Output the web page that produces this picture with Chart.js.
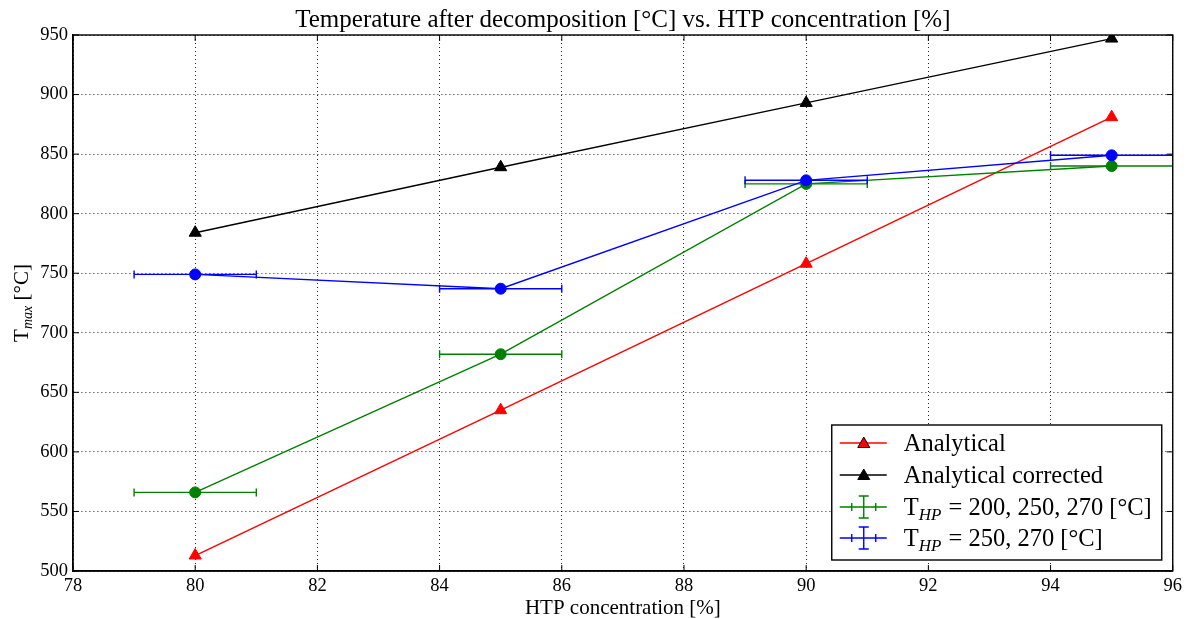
<!DOCTYPE html>
<html>
<head>
<meta charset="utf-8">
<script src="https://cdn.jsdelivr.net/npm/chart.js@4.4.1/dist/chart.umd.min.js"></script>
<style>
html, body { margin: 0; padding: 0; background: #fff; }
#wrap { width: 1186px; height: 619px; }
</style>
</head>
<body>
<div id="wrap"><canvas id="chart"></canvas></div>
<script>
const concentration = [80, 85, 90, 95];
const analytical = [513, 635, 758, 881];
const analyticalCorrected = [784, 839, 893, 947];
const measured200 = [566, 682, 825, 840];
const measured250 = [749, 737, 828, 849];
const concError = [1, 1, 1, 1];
const xTicks = [78, 80, 82, 84, 86, 88, 90, 92, 94, 96];
const yTicks = [500, 550, 600, 650, 700, 750, 800, 850, 900, 950];

const SERIF = '"Liberation Serif", "DejaVu Serif", serif';

function points(ys) {
    return concentration.map((x, i) => ({ x: x, y: ys[i] }));
}

// horizontal error bars, drawn under the markers of their series
const errorBars = {
    id: 'errorBars',
    beforeDatasetDraw(chart, args) {
        const ds = chart.data.datasets[args.index];
        if (!ds.xErr) return;
        const { ctx, chartArea, scales } = chart;
        ctx.save();
        ctx.beginPath();
        ctx.rect(chartArea.left, chartArea.top, chartArea.width, chartArea.height);
        ctx.clip();
        ctx.strokeStyle = ds.borderColor;
        ctx.lineWidth = 1.4;
        ds.data.forEach((p, i) => {
            const x1 = scales.x.getPixelForValue(p.x - ds.xErr[i]);
            const x2 = scales.x.getPixelForValue(p.x + ds.xErr[i]);
            const y = scales.y.getPixelForValue(p.y);
            ctx.beginPath();
            ctx.moveTo(x1, y); ctx.lineTo(x2, y);
            ctx.moveTo(x1, y - 4); ctx.lineTo(x1, y + 4);
            ctx.moveTo(x2, y - 4); ctx.lineTo(x2, y + 4);
            ctx.stroke();
        });
        ctx.restore();
    }
};

function drawSubText(ctx, x, y, parts) {
    // parts: [text, sub, rest]
    ctx.font = '24.5px ' + SERIF;
    ctx.fillText(parts[0], x, y);
    x += ctx.measureText(parts[0]).width;
    ctx.font = 'italic 17px ' + SERIF;
    ctx.fillText(parts[1], x, y + 5);
    x += ctx.measureText(parts[1]).width + 1;
    ctx.font = '24.5px ' + SERIF;
    ctx.fillText(parts[2], x, y);
}

const decorations = {
    id: 'decorations',
    afterDraw(chart) {
        const { ctx, chartArea: a, scales } = chart;
        ctx.save();
        ctx.fillStyle = '#000';
        ctx.strokeStyle = '#000';

        // frame
        ctx.lineWidth = 1.4;
        ctx.strokeRect(a.left, a.top, a.width, a.height);

        // inward ticks on all four sides
        ctx.lineWidth = 1;
        ctx.beginPath();
        xTicks.forEach(v => {
            const x = scales.x.getPixelForValue(v);
            ctx.moveTo(x, a.bottom); ctx.lineTo(x, a.bottom - 6);
            ctx.moveTo(x, a.top); ctx.lineTo(x, a.top + 6);
        });
        yTicks.forEach(v => {
            const y = scales.y.getPixelForValue(v);
            ctx.moveTo(a.left, y); ctx.lineTo(a.left + 6, y);
            ctx.moveTo(a.right, y); ctx.lineTo(a.right - 6, y);
        });
        ctx.stroke();

        // title
        ctx.font = '25px ' + SERIF;
        ctx.textAlign = 'center';
        ctx.textBaseline = 'alphabetic';
        ctx.fillText('Temperature after decomposition [\u00b0C] vs. HTP concentration [%]', (a.left + a.right) / 2, 27);

        // x axis title
        ctx.font = '21px ' + SERIF;
        ctx.fillText('HTP concentration [%]', (a.left + a.right) / 2, 614);

        // y axis title
        ctx.save();
        ctx.translate(28, (a.top + a.bottom) / 2);
        ctx.rotate(-Math.PI / 2);
        ctx.textAlign = 'left';
        ctx.font = '21px ' + SERIF;
        const t1 = 'T', t2 = 'max', t3 = ' [\u00b0C]';
        const w1 = ctx.measureText(t1).width;
        const w3 = ctx.measureText(t3).width;
        ctx.font = 'italic 14px ' + SERIF;
        const w2 = ctx.measureText(t2).width;
        let x = -(w1 + w2 + w3) / 2;
        ctx.font = '21px ' + SERIF;
        ctx.fillText(t1, x, 0);
        x += w1;
        ctx.font = 'italic 14px ' + SERIF;
        ctx.fillText(t2, x, 4);
        x += w2;
        ctx.font = '21px ' + SERIF;
        ctx.fillText(t3, x, 0);
        ctx.restore();

        // legend
        const bw = 330, bh = 135;
        const bx = a.right - 11 - bw, by = a.bottom - 11 - bh;
        ctx.fillStyle = '#fff';
        ctx.fillRect(bx, by, bw, bh);
        ctx.lineWidth = 1.4;
        ctx.strokeStyle = '#000';
        ctx.strokeRect(bx, by, bw, bh);
        ctx.textAlign = 'left';
        ctx.textBaseline = 'alphabetic';
        const rowY = [18, 50, 82, 113];
        chart.data.datasets.forEach((ds, i) => {
            const cy = by + rowY[i];
            const lx1 = bx + 8, lx2 = bx + 55, mx = bx + 32;
            ctx.strokeStyle = ds.borderColor;
            ctx.lineWidth = 1.4;
            ctx.beginPath();
            ctx.moveTo(lx1, cy); ctx.lineTo(lx2, cy);
            if (ds.xErr) {
                ctx.moveTo(mx - 12, cy - 4); ctx.lineTo(mx - 12, cy + 4);
                ctx.moveTo(mx + 12, cy - 4); ctx.lineTo(mx + 12, cy + 4);
                ctx.moveTo(mx, cy - 11); ctx.lineTo(mx, cy + 11);
                ctx.moveTo(mx - 5, cy - 11); ctx.lineTo(mx + 5, cy - 11);
                ctx.moveTo(mx - 5, cy + 11); ctx.lineTo(mx + 5, cy + 11);
            }
            ctx.stroke();
            if (!ds.xErr) {
                ctx.fillStyle = ds.pointBackgroundColor;
                ctx.strokeStyle = '#000';
                ctx.lineWidth = 1;
                ctx.beginPath();
                ctx.moveTo(mx, cy - 6);
                ctx.lineTo(mx + 6, cy + 4.5);
                ctx.lineTo(mx - 6, cy + 4.5);
                ctx.closePath();
                ctx.fill();
                ctx.stroke();
            }
            ctx.fillStyle = '#000';
            const ty = cy + 8;
            if (ds.legendParts) {
                drawSubText(ctx, bx + 72, ty, ds.legendParts);
            } else {
                ctx.font = '24.5px ' + SERIF;
                ctx.fillText(ds.label, bx + 72, ty);
            }
        });
        ctx.restore();
    }
};

const ctx = document.getElementById('chart').getContext('2d');
new Chart(ctx, {
    type: 'line',
    data: {
        datasets: [
            {
                label: 'Analytical',
                data: points(analytical),
                borderColor: '#ff0000',
                pointBackgroundColor: '#ff0000',
                pointStyle: 'triangle',
                order: 3
            },
            {
                label: 'Analytical corrected',
                data: points(analyticalCorrected),
                borderColor: '#000000',
                pointBackgroundColor: '#000000',
                pointStyle: 'triangle',
                order: 2
            },
            {
                label: 'T_HP = 200, 250, 270 [\u00b0C]',
                legendParts: ['T', 'HP', ' = 200, 250, 270 [\u00b0C]'],
                data: points(measured200),
                xErr: concError,
                borderColor: '#008000',
                pointBackgroundColor: '#008000',
                pointStyle: 'circle',
                pointRadius: 5.5,
                order: 1
            },
            {
                label: 'T_HP = 250, 270 [\u00b0C]',
                legendParts: ['T', 'HP', ' = 250, 270 [\u00b0C]'],
                data: points(measured250),
                xErr: concError,
                borderColor: '#0000ff',
                pointBackgroundColor: '#0000ff',
                pointStyle: 'circle',
                pointRadius: 5.5,
                order: 0
            }
        ]
    },
    options: {
        responsive: true,
        maintainAspectRatio: false,
        animation: false,
        layout: { padding: { left: 0, top: 35, right: 10, bottom: 0 } },
        elements: {
            line: { borderWidth: 1.4, tension: 0 },
            point: { radius: 7, borderColor: '#000', borderWidth: 1 }
        },
        plugins: {
            legend: { display: false },
            title: { display: false },
            tooltip: { enabled: false }
        },
        scales: {
            x: {
                type: 'linear',
                min: 78,
                max: 96,
                afterBuildTicks: scale => { scale.ticks = xTicks.map(v => ({ value: v })); },
                afterFit: scale => { scale.height = 48; },
                ticks: { color: '#000', font: { family: SERIF, size: 18.5 }, padding: 4 },
                grid: { color: 'rgba(0,0,0,0.85)', lineWidth: 1, drawTicks: false },
                border: { display: true, color: '#000', width: 1.4, dash: [1, 3] }
            },
            y: {
                type: 'linear',
                min: 500,
                max: 950,
                afterBuildTicks: scale => { scale.ticks = yTicks.map(v => ({ value: v })); },
                afterFit: scale => { scale.width = 73; },
                ticks: { color: '#000', font: { family: SERIF, size: 18.5 }, padding: 5 },
                grid: { color: 'rgba(0,0,0,0.85)', lineWidth: 1, drawTicks: false },
                border: { display: true, color: '#000', width: 1.4, dash: [1, 3] }
            }
        }
    },
    plugins: [errorBars, decorations]
});
</script>
</body>
</html>
